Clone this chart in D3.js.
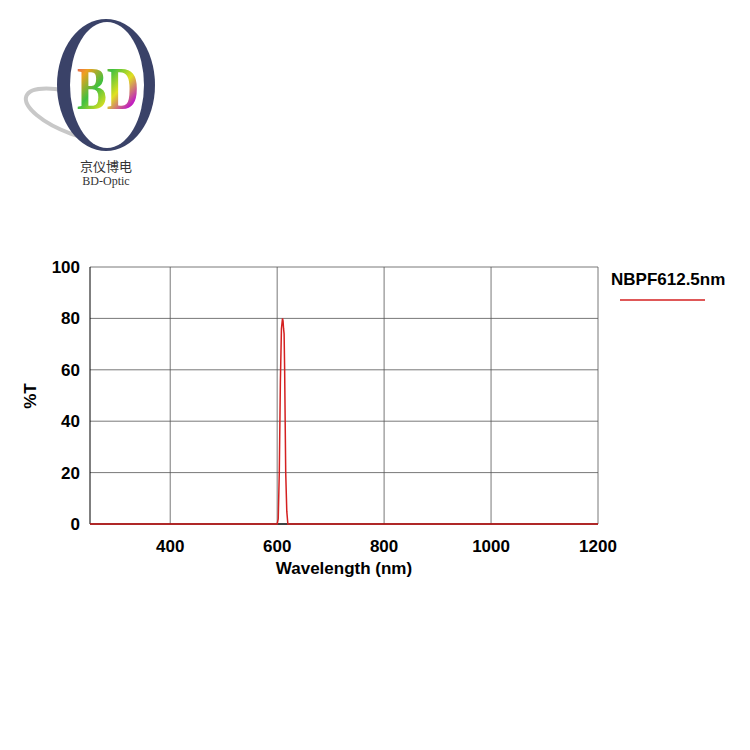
<!DOCTYPE html>
<html><head><meta charset="utf-8">
<script src="https://cdn.jsdelivr.net/npm/d3@7"></script>
<style>body{margin:0;background:#fff}</style>
</head><body>
<div id="chart"></div>
<script>
// curve
const wavelength = [250, 590, 600, 602, 604, 606, 608, 610, 611, 612, 613, 614, 615, 616, 618, 620, 630, 1200]
const transmission = [0, 0, 0, 2, 20, 55, 76, 80, 79, 76, 74, 60, 40, 20, 5, 0, 0, 0]
const xTicks = [400, 600, 800, 1000, 1200]
const yTicks = [0, 20, 40, 60, 80, 100]
const seriesName = 'NBPF612.5nm'

const svg = d3.select('#chart').append('svg').attr('width', 750).attr('height', 750)

// logo
const logo = svg.append('g')
logo.append('ellipse').attr('cx', 78).attr('cy', 115).attr('rx', 55).attr('ry', 20)
  .attr('transform', 'rotate(20 78 115)').attr('fill', 'none').attr('stroke', '#c8c8c8').attr('stroke-width', 4)
logo.append('ellipse').attr('cx', 106).attr('cy', 85).attr('rx', 49).attr('ry', 66).attr('fill', '#3a4268')
logo.append('ellipse').attr('cx', 107).attr('cy', 85).attr('rx', 37).attr('ry', 63).attr('fill', '#fff')
const grad = svg.append('defs').append('linearGradient').attr('id', 'rb').attr('x1', 0).attr('y1', 0).attr('x2', 1).attr('y2', 1)
;['#e0208a', '#f0a020', '#40c040', '#e0e020', '#c020c0', '#e02080'].forEach((c, i, a) =>
  grad.append('stop').attr('offset', i / (a.length - 1)).attr('stop-color', c))
logo.append('text').attr('x', 0).attr('y', 0).attr('text-anchor', 'middle')
  .attr('font-family', 'Liberation Serif').attr('font-weight', 'bold').attr('font-size', 62).attr('fill', 'url(#rb)')
  .attr('transform', 'translate(108,109) scale(0.72,1)').text('BD')
logo.append('text').attr('x', 106).attr('y', 171).attr('text-anchor', 'middle')
  .attr('font-family', 'Noto Sans CJK SC').attr('font-size', 13).attr('fill', '#333').text('京仪博电')
logo.append('text').attr('x', 106).attr('y', 185).attr('text-anchor', 'middle')
  .attr('font-family', 'Liberation Serif').attr('font-size', 12).attr('fill', '#333').text('BD-Optic')

const x = d3.scaleLinear().domain([250, 1200]).range([90, 598])
const y = d3.scaleLinear().domain([0, 100]).range([524, 267])

const g = svg.append('g').attr('font-family', 'Liberation Sans').attr('font-weight', 'bold')

g.selectAll('.hg').data(yTicks.slice(1)).join('line')
  .attr('x1', 90).attr('x2', 598).attr('y1', d => y(d)).attr('y2', d => y(d))
  .attr('stroke', '#555').attr('stroke-width', 0.8)
g.selectAll('.vg').data(xTicks).join('line')
  .attr('x1', d => x(d)).attr('x2', d => x(d)).attr('y1', 267).attr('y2', 524)
  .attr('stroke', '#555').attr('stroke-width', 0.8)
g.append('line').attr('x1', 90).attr('x2', 90).attr('y1', 267).attr('y2', 524).attr('stroke', '#000')
g.append('line').attr('x1', 90).attr('x2', 598).attr('y1', 524).attr('y2', 524).attr('stroke', '#000').attr('stroke-width', 1.5)

g.selectAll('.yl').data(yTicks).join('text')
  .attr('x', 80).attr('y', d => y(d) + 6).attr('text-anchor', 'end').attr('font-size', 17).text(d => d)
g.selectAll('.xl').data(xTicks).join('text')
  .attr('x', d => x(d)).attr('y', 552).attr('text-anchor', 'middle').attr('font-size', 17).text(d => d)

g.append('text').attr('x', 344).attr('y', 574).attr('text-anchor', 'middle').attr('font-size', 17).text('Wavelength (nm)')
g.append('text').attr('transform', 'translate(36,396) rotate(-90)').attr('text-anchor', 'middle').attr('font-size', 17).text('%T')

const pts = wavelength.map((w, i) => [w, transmission[i]])
g.append('path').datum(pts)
  .attr('d', d3.line().x(d => x(d[0])).y(d => y(d[1])))
  .attr('fill', 'none').attr('stroke', '#d42020').attr('stroke-width', 1.5)

g.append('text').attr('x', 611).attr('y', 285).attr('font-size', 17).text(seriesName)
g.append('line').attr('x1', 620).attr('x2', 705).attr('y1', 300).attr('y2', 300).attr('stroke', '#d42020').attr('stroke-width', 1.5)
</script>
</body></html>
